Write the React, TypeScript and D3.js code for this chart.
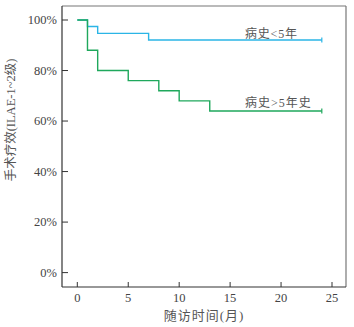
import React from "react";
import * as d3 from "d3";

const xTicks = [0, 5, 10, 15, 20, 25];
const yTicks = [0, 0.2, 0.4, 0.6, 0.8, 1.0];

// Kaplan-Meier step points: [month, survival]
const shortTimes = [0, 1, 2, 7, 24];
const shortValues = [1.0, 0.974, 0.947, 0.921, 0.921];
const longTimes = [0, 1, 2, 5, 8, 10, 13, 24];
const longValues = [1.0, 0.88, 0.8, 0.76, 0.72, 0.68, 0.64, 0.64];

const shortLabel = "病史<5年";
const longLabel = "病史>5年史";
const xTitle = "随访时间(月)";
const yTitle = "手术疗效(ILAE-1~2级)";

const W = 354;
const H = 327;
const left = 62;
const right = 346;
const top = 6;
const bottom = 287;

export default function App() {
  const x = d3.scaleLinear().domain([0, 25]).range([77.3, 332]);
  const y = d3.scaleLinear().domain([0, 1]).range([272.6, 20]);
  const line = d3
    .line<[number, number]>()
    .x((d) => x(d[0]))
    .y((d) => y(d[1]))
    .curve(d3.curveStepAfter);

  const shortData = shortTimes.map((t, i) => [t, shortValues[i]] as [number, number]);
  const longData = longTimes.map((t, i) => [t, longValues[i]] as [number, number]);
  const blue = "#2bb5e6";
  const green = "#1fa85c";
  const font = "'Liberation Serif', 'Noto Sans CJK SC', serif";

  return (
    <svg
      width={W}
      height={H}
      style={{ position: "absolute", left: 0, top: 0, background: "#fff" }}
      fontFamily={font}
    >
      {/* frame */}
      <line x1={left} x2={right} y1={top} y2={top} stroke="#777" strokeWidth={1.2} />
      <line x1={right} x2={right} y1={top} y2={bottom} stroke="#777" strokeWidth={1.2} />
      <line x1={left} x2={left} y1={top} y2={bottom} stroke="#333" strokeWidth={1.2} />
      <line x1={left} x2={right} y1={bottom} y2={bottom} stroke="#333" strokeWidth={1.2} />

      {yTicks.map((t) => (
        <g key={"y" + t}>
          <line x1={left} x2={left + 6} y1={y(t)} y2={y(t)} stroke="#333" strokeWidth={1} />
          <text x={left - 5} y={y(t)} dy="0.35em" textAnchor="end" fontSize={12.5} fill="#444">
            {Math.round(t * 100) + "%"}
          </text>
        </g>
      ))}
      {xTicks.map((t) => (
        <g key={"x" + t}>
          <line x1={x(t)} x2={x(t)} y1={bottom} y2={bottom - 5} stroke="#333" strokeWidth={1} />
          <text x={x(t)} y={bottom + 15} textAnchor="middle" fontSize={12.5} fill="#444">
            {t}
          </text>
        </g>
      ))}

      <path d={line(shortData) || ""} fill="none" stroke={blue} strokeWidth={1.4} />
      <path d={line(longData) || ""} fill="none" stroke={green} strokeWidth={1.4} />
      <line
        x1={x(24)}
        x2={x(24)}
        y1={y(shortValues[shortValues.length - 1]) - 2.5}
        y2={y(shortValues[shortValues.length - 1]) + 2.5}
        stroke={blue}
        strokeWidth={1.2}
      />
      <line
        x1={x(24)}
        x2={x(24)}
        y1={y(longValues[longValues.length - 1]) - 2.5}
        y2={y(longValues[longValues.length - 1]) + 2.5}
        stroke={green}
        strokeWidth={1.2}
      />

      <text x={245} y={38} fontSize={12} fill="#555" letterSpacing={0.8}>
        {shortLabel}
      </text>
      <text x={245} y={107} fontSize={12} fill="#555" letterSpacing={1}>
        {longLabel}
      </text>

      <text x={204} y={320} textAnchor="middle" fontSize={13} fill="#555" letterSpacing={1}>
        {xTitle}
      </text>
      <text
        transform="translate(15,120) rotate(-90)"
        textAnchor="middle"
        fontSize={12.5}
        fill="#555"
      >
        {yTitle}
      </text>
    </svg>
  );
}
